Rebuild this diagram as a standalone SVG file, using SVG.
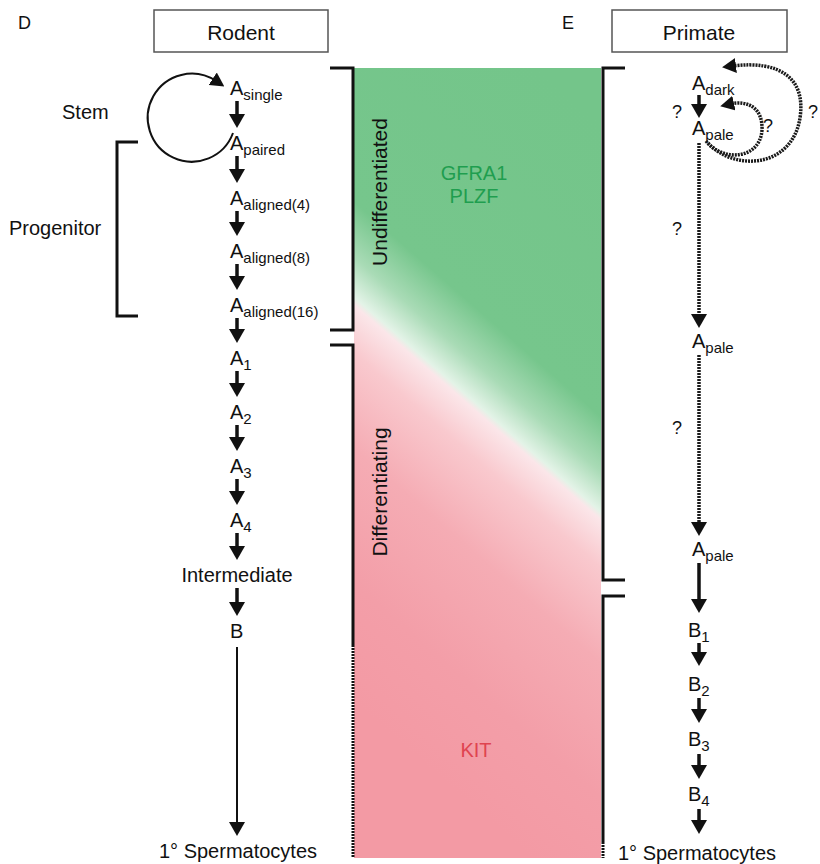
<svg xmlns="http://www.w3.org/2000/svg" width="820" height="864" viewBox="0 0 820 864">
<style>
text{font-family:"Liberation Sans",Arial,sans-serif;fill:#111}
.lbl{font-size:20px}
.sub{font-size:15px}
.q{font-size:18px}
.br{fill:none;stroke:#111;stroke-width:3}
.dotbr{fill:none;stroke:#111;stroke-width:3;stroke-dasharray:2 1}
.ar{stroke:#111;stroke-width:3.5;marker-end:url(#ah)}
.dar{stroke:#1a1a1a;stroke-width:3.5;stroke-dasharray:2 1;fill:none}
</style>
<defs>
<linearGradient id="gr" gradientUnits="userSpaceOnUse" x1="674.5" y1="186.2" x2="280.5" y2="638.8">
<stop offset="0" stop-color="#74c58a"/>
<stop offset="0.37" stop-color="#76c68c"/>
<stop offset="0.44" stop-color="#a9dbb6"/>
<stop offset="0.49" stop-color="#e3f3e7"/>
<stop offset="0.5" stop-color="#fbe6e9"/>
<stop offset="0.56" stop-color="#f9c9ce"/>
<stop offset="0.68" stop-color="#f5acb4"/>
<stop offset="0.85" stop-color="#f39ea8"/>
<stop offset="1" stop-color="#f39aa4"/>
</linearGradient>
<marker id="ah" markerUnits="userSpaceOnUse" markerWidth="14" markerHeight="16" refX="7" refY="8" orient="auto" viewBox="0 0 14 16">
<path d="M0,0 L14,8 L0,16 z" fill="#111"/>
</marker>
<marker id="ahs" markerUnits="userSpaceOnUse" markerWidth="14" markerHeight="15" refX="4" refY="7.5" orient="auto" viewBox="0 0 14 15">
<path d="M0,0 L14,7.5 L0,15 z" fill="#111"/>
</marker>
</defs>
<rect width="820" height="864" fill="#fff"/>

<g id="panel-labels">
<text x="18" y="29" style="font-size:18px">D</text>
<text x="562" y="29" style="font-size:18px">E</text>
</g>

<g id="rodent-header">
<rect x="154" y="10" width="174" height="42" fill="#fff" stroke="#555" stroke-width="1.5"/>
<text x="241" y="40" text-anchor="middle" style="font-size:21px">Rodent</text>
</g>
<g id="primate-header">
<rect x="612" y="10" width="175" height="42" fill="#fff" stroke="#555" stroke-width="1.5"/>
<text x="699" y="40" text-anchor="middle" style="font-size:21px">Primate</text>
</g>

<g id="marker-band">
<rect x="354" y="68" width="247" height="790" fill="url(#gr)"/>
<text x="474" y="180" text-anchor="middle" style="font-size:20px;fill:#1f9e4f">GFRA1</text>
<text x="474" y="203" text-anchor="middle" style="font-size:20px;fill:#1f9e4f">PLZF</text>
<text x="476" y="757" text-anchor="middle" style="font-size:20px;fill:#df4450">KIT</text>
</g>

<g id="brackets">
<path class="br" d="M330,68 H353 V330 H330"/>
<path class="br" d="M330,345 H353 V645"/>
<path class="dotbr" d="M353,645 V858"/>
<path class="br" d="M625,68 H603 V580 H625"/>
<path class="br" d="M625,596 H603 V842"/>
<path class="dotbr" d="M603,842 V858"/>
<path class="br" d="M138,142 H117 V316 H138"/>
<text x="387" y="192" transform="rotate(-90 387 192)" text-anchor="middle" style="font-size:21px">Undifferentiated</text>
<text x="387" y="492" transform="rotate(-90 387 492)" text-anchor="middle" style="font-size:21px">Differentiating</text>
</g>

<g id="stage-labels">
<text x="62" y="119" class="lbl">Stem</text>
<text x="9" y="235" class="lbl">Progenitor</text>
</g>

<g id="rodent-nodes">
<text x="230" y="95" class="lbl">A<tspan class="sub" dy="5">single</tspan></text>
<text x="230" y="150" class="lbl">A<tspan class="sub" dy="5">paired</tspan></text>
<text x="230" y="205" class="lbl">A<tspan class="sub" dy="5">aligned(4)</tspan></text>
<text x="230" y="258" class="lbl">A<tspan class="sub" dy="5">aligned(8)</tspan></text>
<text x="230" y="312" class="lbl">A<tspan class="sub" dy="5">aligned(16)</tspan></text>
<text x="230" y="365" class="lbl">A<tspan class="sub" dy="5">1</tspan></text>
<text x="230" y="419" class="lbl">A<tspan class="sub" dy="5">2</tspan></text>
<text x="230" y="473" class="lbl">A<tspan class="sub" dy="5">3</tspan></text>
<text x="230" y="527" class="lbl">A<tspan class="sub" dy="5">4</tspan></text>
<text x="237" y="582" class="lbl" text-anchor="middle">Intermediate</text>
<text x="230" y="638" class="lbl">B</text>
<text x="238" y="858" class="lbl" text-anchor="middle">1° Spermatocytes</text>
</g>

<g id="primate-nodes">
<text x="692" y="90" class="lbl">A<tspan class="sub" dy="5">dark</tspan></text>
<text x="692" y="135" class="lbl">A<tspan class="sub" dy="5">pale</tspan></text>
<text x="692" y="348" class="lbl">A<tspan class="sub" dy="5">pale</tspan></text>
<text x="692" y="556" class="lbl">A<tspan class="sub" dy="5">pale</tspan></text>
<text x="688" y="637" class="lbl">B<tspan class="sub" dy="5">1</tspan></text>
<text x="688" y="691" class="lbl">B<tspan class="sub" dy="5">2</tspan></text>
<text x="688" y="746" class="lbl">B<tspan class="sub" dy="5">3</tspan></text>
<text x="688" y="801" class="lbl">B<tspan class="sub" dy="5">4</tspan></text>
<text x="697" y="860" class="lbl" text-anchor="middle">1° Spermatocytes</text>
<text x="672" y="118" class="q">?</text>
<text x="763" y="132" class="q">?</text>
<text x="808" y="118" class="q">?</text>
<text x="672" y="235" class="q">?</text>
<text x="672" y="434" class="q">?</text>
</g>

<g id="connectors">
<path d="M233,133 A44,44 0 1 1 216,81" fill="none" stroke="#111" stroke-width="2" marker-end="url(#ahs)"/>
<line class="ar" x1="237" y1="101" x2="237" y2="121"/>
<line class="ar" x1="237" y1="156" x2="237" y2="176"/>
<line class="ar" x1="237" y1="211" x2="237" y2="229"/>
<line class="ar" x1="237" y1="264" x2="237" y2="283"/>
<line class="ar" x1="237" y1="318" x2="237" y2="336"/>
<line class="ar" x1="237" y1="371" x2="237" y2="390"/>
<line class="ar" x1="237" y1="425" x2="237" y2="444"/>
<line class="ar" x1="237" y1="479" x2="237" y2="498"/>
<line class="ar" x1="237" y1="533" x2="237" y2="553"/>
<line class="ar" x1="237" y1="588" x2="237" y2="609"/>
<line x1="237" y1="647" x2="237" y2="829" stroke="#111" stroke-width="2" marker-end="url(#ah)"/>

<line class="ar" x1="699" y1="95" x2="699" y2="111"/>
<path class="dar" d="M706,141 C722,162 760,160 762,130 C763,108 748,100 730,104" marker-end="url(#ahs)"/>
<path class="dar" d="M708,143 C735,172 792,168 800,118 C806,78 780,60 732,66" marker-end="url(#ahs)"/>
<line class="dar" x1="699" y1="143" x2="699" y2="321" marker-end="url(#ah)"/>
<line class="dar" x1="699" y1="355" x2="699" y2="529" marker-end="url(#ah)"/>
<line class="ar" x1="699" y1="563" x2="699" y2="606"/>
<line class="ar" x1="699" y1="643" x2="699" y2="659"/>
<line class="ar" x1="699" y1="698" x2="699" y2="716"/>
<line class="ar" x1="699" y1="754" x2="699" y2="772"/>
<line class="ar" x1="699" y1="809" x2="699" y2="827"/>
</g>
</svg>
